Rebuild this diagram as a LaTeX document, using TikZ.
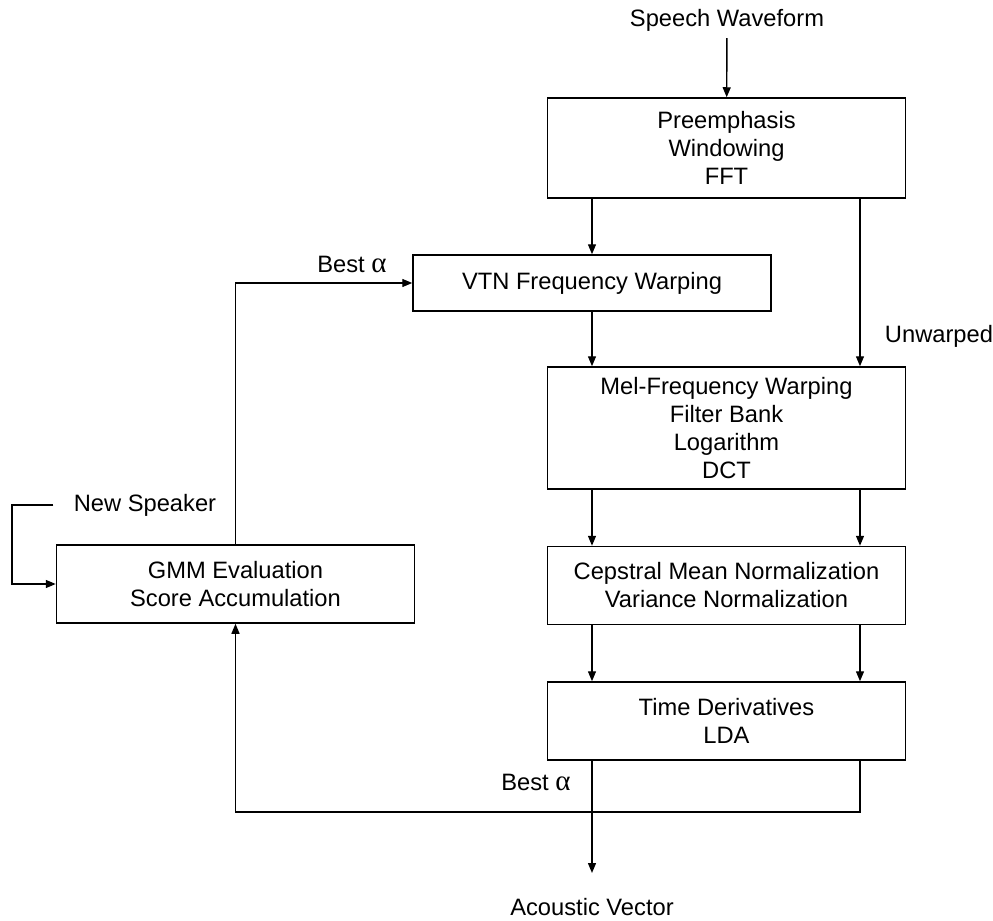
\documentclass[tikz,border=0pt]{standalone}
\usepackage{fontspec}
\setmainfont{Liberation Sans}
\newfontfamily\alphafont{Liberation Serif}
\usetikzlibrary{arrows.meta,positioning}
\tikzset{
  procbox/.style={
    rectangle, draw=black, line width=0.75pt,
    minimum width=179pt, minimum height=#1,
    font=\fontsize{11.85}{14}\selectfont, align=center,
    inner sep=2pt
  },
  procbox/.default=39pt,
  flowarrow/.style={
    -{Triangle[length=5pt,width=4pt]}, line width=0.7pt
  },
  lbl/.style={font=\fontsize{11.85}{14}\selectfont},
}
\newcommand{\bestalpha}{Best {\alphafont\fontsize{14.5}{14}\selectfont α}}

\begin{document}
\begin{tikzpicture}[x=0.5pt, y=-0.5pt, node distance=28pt]
  \useasboundingbox (0,0) rectangle (993,921);
  \coordinate (lcol) at (592,0);
  \coordinate (rcol) at (860,0);
  \coordinate (loopy) at (0,812);
  \coordinate (nsleft) at (12,0);
  \coordinate (outend) at (592,873);
  % processing chain
  \node[lbl] (in) at (727,20) {Speech Waveform};
  \node[procbox=50pt] (pre) at (726.5,148) {Preemphasis\\Windowing\\FFT};
  \node[procbox=28pt] (vtn) at (592,283) {VTN Frequency Warping};
  \node[procbox=61pt] (mel) at (726.5,428)
    {Mel-Frequency Warping\\Filter Bank\\Logarithm\\DCT};
  \node[procbox, below=of mel] (cep)
    {Cepstral Mean Normalization\\Variance Normalization};
  \node[procbox, below=of cep] (td) {Time Derivatives\\LDA};
  \node[lbl] (out) at (592,907) {Acoustic Vector};
  % warp factor search
  \node[procbox] (gmm) at (235.5,584) {GMM Evaluation\\Score Accumulation};
  \node[lbl, inner xsep=10pt] (ns) at (145,505) {New Speaker};
  \node[lbl] (unw) at (939,336) {Unwarped};
  \node[lbl] (ba1) at (352,264) {\bestalpha};
  \node[lbl] (ba2) at (536,782) {\bestalpha};
  \draw[flowarrow] (in) -- (pre);
  \draw[flowarrow] (pre.south -| vtn) -- (vtn);
  \draw[flowarrow] (pre.south -| rcol) -- (mel.north -| rcol);
  \draw[flowarrow] (vtn.south) -- (mel.north -| vtn.south);
  \foreach \a/\b in {mel/cep, cep/td} {
    \draw[flowarrow] (\a.south -| lcol) -- (\b.north -| lcol);
    \draw[flowarrow] (\a.south -| rcol) -- (\b.north -| rcol);
  }
  \draw[flowarrow] (td.south -| lcol) -- (outend);
  \draw[flowarrow] (td.south -| rcol) -- (rcol |- loopy) -| (gmm.south);
  \draw[flowarrow] (gmm.north) |- (vtn.west);
  \draw[flowarrow] (ns.west) -| (nsleft |- gmm.west) -- (gmm.west);
\end{tikzpicture}
\end{document}
